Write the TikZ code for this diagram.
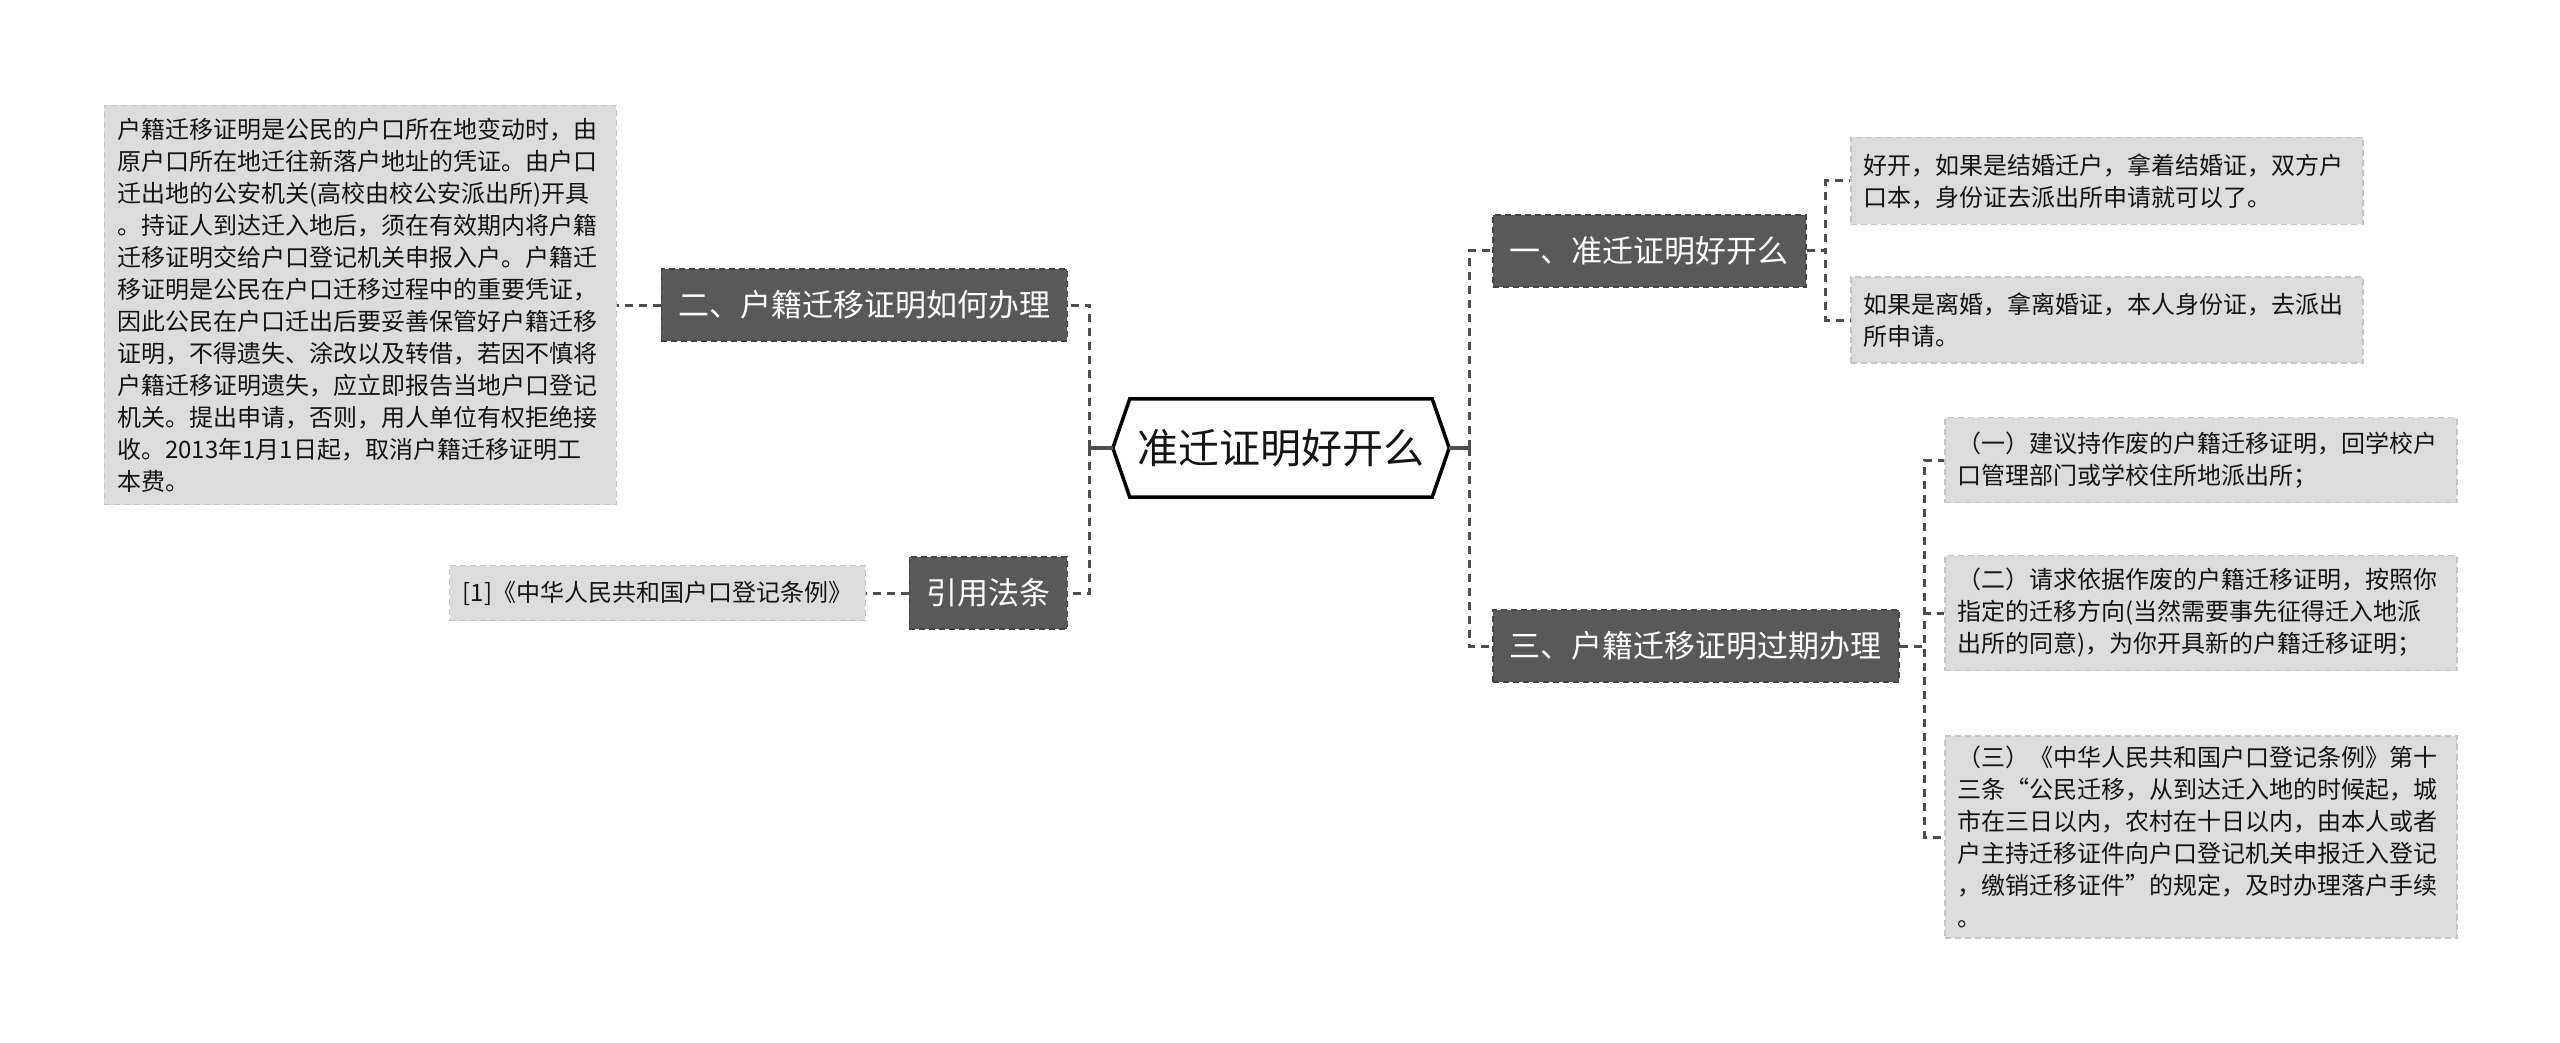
\documentclass[tikz,border=0pt]{standalone}
\usepackage{fontspec}
\newfontfamily\cjk{Noto Sans CJK SC}
\usepackage{xcolor}
\usepackage{tikz}
\usetikzlibrary{calc}
\definecolor{clrDk}{RGB}{89,89,89}
\definecolor{clrDkB}{RGB}{68,68,68}
\definecolor{clrLt}{RGB}{220,220,220}
\definecolor{clrLtB}{RGB}{196,196,196}
\definecolor{clrLn}{RGB}{78,78,78}
\definecolor{clrTx}{RGB}{20,20,20}
\tikzset{
  root/.style={rectangle,minimum width=302pt,minimum height=98pt,inner sep=0pt,
    font=\cjk\fontsize{41}{49}\selectfont,text=clrTx},
  hexline/.style={line width=3.5pt,draw=black,line join=miter},
  topic/.style={rectangle,draw=clrDkB,dash pattern=on 6pt off 4pt,line width=1.5pt,
    fill=clrDk,text=white,font=\cjk\fontsize{31}{37}\selectfont,
    minimum height=72pt,inner xsep=17pt,inner ysep=0pt},
  note/.style={rectangle,draw=clrLtB,dash pattern=on 6pt off 4pt,line width=1.5pt,
    fill=clrLt,text=clrTx,font=\cjk\fontsize{24}{32}\selectfont,
    inner xsep=13pt,inner ysep=6pt},
  leaf/.style={note,text width=486pt,align=left},
  link/.style={draw=clrLn,line width=3pt,dash pattern=on 8pt off 6pt},
  stub/.style={draw=clrLn,line width=3.5pt}
}

\begin{document}
\begin{tikzpicture}[x=1pt,y=-1pt]
  \fill[white] (0,0) rectangle (2560,1043);
  \useasboundingbox (0,0) rectangle (2560,1043);

  \node[root] (root) at (1281,448) {准迁证明好开么};
  \coordinate (rootW) at ($(root.west)+(-17,0)$);
  \coordinate (rootE) at ($(root.east)+(17,0)$);
  \draw[hexline] (root.north west) -- (root.north east) -- (rootE)
    -- (root.south east) -- (root.south west) -- (rootW) -- cycle;

  \node[topic,anchor=east] (howto) at (1068,305) {二、户籍迁移证明如何办理};
  \node[topic,anchor=east] (law) at (1068,593) {引用法条};
  \node[topic,anchor=west] (easy) at (1492,251) {一、准迁证明好开么};
  \node[topic,anchor=west] (expire) at (1492,646) {三、户籍迁移证明过期办理};

  \node[leaf,anchor=east,minimum height=399pt] (howtoTxt) at (617,305)
    {户籍迁移证明是公民的户口所在地变动时，由\\
    原户口所在地迁往新落户地址的凭证。由户口\\
    迁出地的公安机关(高校由校公安派出所)开具\\
    。持证人到达迁入地后，须在有效期内将户籍\\
    迁移证明交给户口登记机关申报入户。户籍迁\\
    移证明是公民在户口迁移过程中的重要凭证，\\
    因此公民在户口迁出后要妥善保管好户籍迁移\\
    证明，不得遗失、涂改以及转借，若因不慎将\\
    户籍迁移证明遗失，应立即报告当地户口登记\\
    机关。提出申请，否则，用人单位有权拒绝接\\
    收。2013年1月1日起，取消户籍迁移证明工\\
    本费。};
  \node[note,anchor=east,minimum height=55pt] (lawTxt) at (866,593)
    {[1]《中华人民共和国户口登记条例》};

  \node[leaf,anchor=west,minimum height=87pt] (marry) at (1850,181)
    {好开，如果是结婚迁户，拿着结婚证，双方户\\
    口本，身份证去派出所申请就可以了。};
  \node[leaf,anchor=west,minimum height=86pt] (divorce) at (1850,320)
    {如果是离婚，拿离婚证，本人身份证，去派出\\
    所申请。};

  \node[leaf,anchor=west,minimum height=85pt] (optA) at (1944,460)
    {（一）建议持作废的户籍迁移证明，回学校户\\
    口管理部门或学校住所地派出所；};
  \node[leaf,anchor=west,minimum height=115pt] (optB) at (1944,613)
    {（二）请求依据作废的户籍迁移证明，按照你\\
    指定的迁移方向(当然需要事先征得迁入地派\\
    出所的同意)，为你开具新的户籍迁移证明；};
  \node[leaf,anchor=west,minimum height=202pt] (optC) at (1944,837)
    {（三）《中华人民共和国户口登记条例》第十\\
    三条“公民迁移，从到达迁入地的时候起，城\\
    市在三日以内，农村在十日以内，由本人或者\\
    户主持迁移证件向户口登记机关申报迁入登记\\
    ，缴销迁移证件”的规定，及时办理落户手续\\
    。};

  \draw[stub] (rootW) -- ++(-23,0) coordinate (trunkL);
  \draw[link] (trunkL) |- (howto.east);
  \draw[link] (trunkL) |- (law.east);
  \draw[stub] (rootE) -- ++(20,0) coordinate (trunkR);
  \draw[link] (trunkR) |- (easy.west);
  \draw[link] (trunkR) |- (expire.west);

  \draw[link] (howto.west) -- (howtoTxt.east);
  \draw[link] (law.west) -- (lawTxt.east);
  \draw[link] (easy.east) -- ++(19,0) |- (marry.west);
  \draw[link] (easy.east) -- ++(19,0) |- (divorce.west);
  \draw[link] (expire.east) -- ++(25,0) |- (optA.west);
  \draw[link] (expire.east) -- ++(25,0) |- (optB.west);
  \draw[link] (expire.east) -- ++(25,0) |- (optC.west);
\end{tikzpicture}
\end{document}
